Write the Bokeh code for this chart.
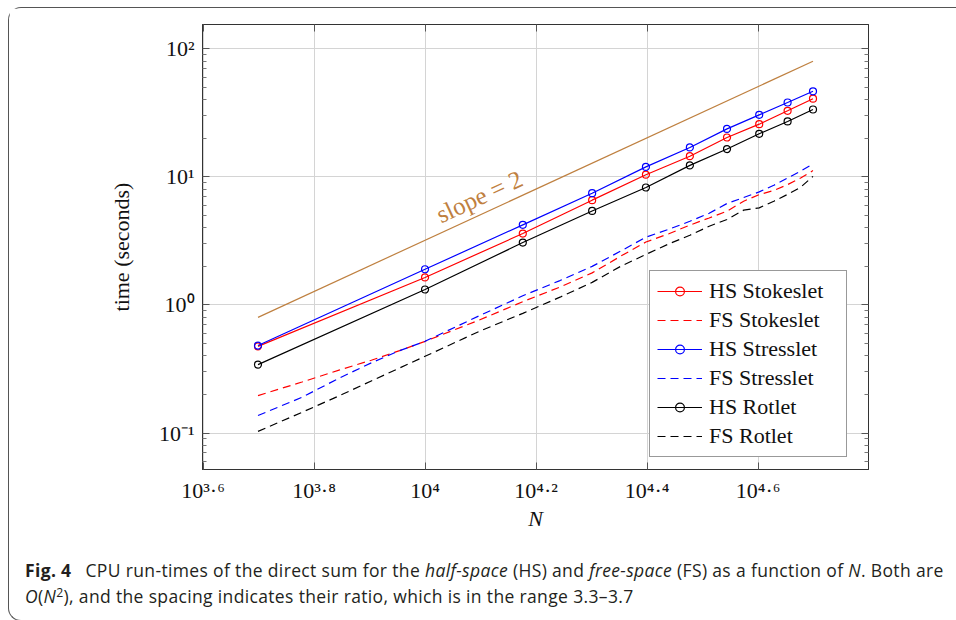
import math
from bokeh.plotting import figure
from bokeh.models import (Range1d, FixedTicker, LogAxis, Label, Legend, LegendItem, Div,
                          CustomLabelingPolicy)
from bokeh.layouts import column
from bokeh.embed import file_html
from bokeh.resources import INLINE

# ---------------- data ----------------
N_hs = [5000, 10000, 15000, 20000, 25000, 30000, 35000, 40000, 45000, 50000]
hs_stokeslet = [0.475, 1.64, 3.61, 6.58, 10.4, 14.5, 20.3, 25.8, 32.8, 40.8]
hs_stresslet = [0.482, 1.90, 4.22, 7.46, 11.97, 16.98, 23.7, 30.5, 38.1, 46.6]
hs_rotlet = [0.342, 1.32, 3.07, 5.42, 8.26, 12.3, 16.5, 21.7, 27.1, 33.6]

N_fs = [5000, 6000, 7000, 8000, 9000, 10000, 12500, 15000, 17500, 20000, 22500,
        25000, 27500, 30000, 32500, 35000, 37500, 40000, 42500, 45000, 47500, 50000]
fs_stokeslet = [0.196, 0.25, 0.31, 0.37, 0.44, 0.52, 0.76, 1.06, 1.38, 1.78, 2.4,
                3.1, 3.6, 4.2, 4.78, 5.4, 6.46, 7.28, 7.83, 8.7, 9.8, 11.2]
fs_stresslet = [0.137, 0.19, 0.268, 0.353, 0.44, 0.52, 0.82, 1.18, 1.55, 2.0, 2.63,
                3.38, 3.9, 4.5, 5.2, 6.2, 6.9, 7.64, 8.6, 9.8, 11.1, 12.6]
fs_rotlet = [0.103, 0.145, 0.195, 0.255, 0.322, 0.397, 0.62, 0.86, 1.15, 1.5, 2.0,
             2.48, 3.0, 3.5, 4.12, 4.65, 5.5, 5.73, 6.46, 7.3, 8.3, 10.1]

slope_N = [5000, 50000]
slope_t = [0.8, 80]
slope_text = "slope = 2"
slope_label_N = 12900

x_tick_exp = [3.6, 3.8, 4.0, 4.2, 4.4, 4.6]
x_tick_labels = ["10\u00b3\u00b7\u2076", "10\u00b3\u00b7\u2078", "10\u2074",
                 "10\u2074\u00b7\u00b2", "10\u2074\u00b7\u2074", "10\u2074\u00b7\u2076"]
y_tick_exp = [-1, 0, 1, 2]
y_tick_labels = ["10\u207b\u00b9", "10\u2070", "10\u00b9", "10\u00b2"]

legend_labels = ["HS Stokeslet", "FS Stokeslet", "HS Stresslet", "FS Stresslet", "HS Rotlet", "FS Rotlet"]

# ---------------- layout constants ----------------
SERIF = "Liberation Serif"
BASE = 22
x_lo, x_hi = 3.59897, 4.79897
y_lo, y_hi = -1.285, 2.19
FW, FH = 666, 446

p = figure(width=947, height=532, x_axis_type="log", y_axis_type="log",
           x_range=Range1d(10 ** x_lo, 10 ** x_hi), y_range=Range1d(10 ** y_lo, 10 ** y_hi),
           output_backend="svg", toolbar_location=None,
           min_border_left=193, min_border_right=88, min_border_top=15, min_border_bottom=71)
p.outline_line_color = "#333333"
p.outline_line_width = 1
p.background_fill_color = "white"
p.border_fill_color = "white"

x_ticks = [10 ** e for e in x_tick_exp]
y_ticks = [10.0 ** e for e in y_tick_exp]
y_minor = [m * 10.0 ** e for e in range(-2, 3) for m in range(2, 10)]

def style_axis(ax, ticker, labels=None):
    ax.ticker = ticker
    if labels is None:
        ax.major_label_policy = CustomLabelingPolicy(code="for (const i of indices) indices.unset(i)")
    else:
        ax.major_label_overrides = {t: s for t, s in zip(ticker.ticks, labels)}
        ax.major_label_text_font = SERIF
        ax.major_label_text_font_size = f"{BASE}px"
        ax.major_label_text_color = "#111111"
    ax.major_tick_in = 7
    ax.major_tick_out = 0
    ax.minor_tick_in = 4
    ax.minor_tick_out = 0
    ax.axis_line_color = "#333333"
    ax.major_tick_line_color = "#555555"
    ax.minor_tick_line_color = "#777777"

bottom_ax = p.below[0]
left_ax = p.left[0]
style_axis(bottom_ax, FixedTicker(ticks=x_ticks, minor_ticks=[]), x_tick_labels)
style_axis(left_ax, FixedTicker(ticks=y_ticks, minor_ticks=y_minor), y_tick_labels)
bottom_ax.major_label_standoff = 8
left_ax.major_label_standoff = 8
top_ax = LogAxis()
style_axis(top_ax, FixedTicker(ticks=x_ticks, minor_ticks=[]))
p.add_layout(top_ax, "above")
right_ax = LogAxis()
style_axis(right_ax, FixedTicker(ticks=y_ticks, minor_ticks=y_minor))
p.add_layout(right_ax, "right")

bottom_ax.axis_label = "N"
left_ax.axis_label = "time (seconds)"
for ax, st in ((bottom_ax, 0), (left_ax, 22)):
    ax.axis_label_text_font = SERIF
    ax.axis_label_text_font_size = f"{BASE}px"
    ax.axis_label_standoff = st
    ax.axis_label_text_color = "#111111"
bottom_ax.axis_label_text_font_style = "italic"
left_ax.axis_label_text_font_style = "normal"

p.xgrid.grid_line_color = "#d4d4d4"
p.ygrid.grid_line_color = "#d4d4d4"
p.xgrid.grid_line_width = 1
p.ygrid.grid_line_width = 1

# ---------------- series ----------------
BROWN = "#bf8040"
p.line(slope_N, slope_t, line_color=BROWN, line_width=1.2)

items = []
specs = [
    (N_hs, hs_stokeslet, "red", True),
    (N_fs, fs_stokeslet, "red", False),
    (N_hs, hs_stresslet, "blue", True),
    (N_fs, fs_stresslet, "blue", False),
    (N_hs, hs_rotlet, "black", True),
    (N_fs, fs_rotlet, "black", False),
]
for lab, (xs, ys, col, solid) in zip(legend_labels, specs):
    if solid:
        rl = p.line(xs, ys, line_color=col, line_width=1.2)
        rs = p.scatter(xs, ys, marker="circle", size=7, fill_color=None, line_color=col, line_width=1.2)
        items.append(LegendItem(label=lab, renderers=[rl, rs]))
    else:
        rl = p.line(xs, ys, line_color=col, line_width=1.2, line_dash="8 5")
        items.append(LegendItem(label=lab, renderers=[rl]))

legend = Legend(items=items, location=(447, 12))
legend.label_text_font = SERIF
legend.label_text_font_size = f"{BASE}px"
legend.label_text_color = "#111111"
legend.glyph_width = 45
legend.glyph_height = 22
legend.label_height = 22
legend.label_width = 130
legend.label_standoff = 7
legend.spacing = 3
legend.padding = 7
legend.margin = 0
legend.border_line_color = "#333333"
legend.border_line_width = 1
legend.background_fill_alpha = 1
p.add_layout(legend)

# ---------------- slope label ----------------
ang = math.atan2(2 * FH / (y_hi - y_lo), FW / (x_hi - x_lo))
gap = 17
p.add_layout(Label(x=slope_label_N, y=slope_t[0] * (slope_label_N / slope_N[0]) ** 2,
                   text=slope_text, angle=ang, text_align="center", text_baseline="alphabetic",
                   x_offset=-gap * math.sin(ang), y_offset=gap * math.cos(ang),
                   text_font=SERIF, text_font_size="25px", text_color=BROWN))

# ---------------- caption ----------------
caption = Div(width=947, height=70, text=(
    '<div style="font-family:\'Open Sans\',sans-serif;font-size:17.5px;line-height:26px;'
    'color:#231f20;white-space:nowrap;padding:12px 0 0 11px;letter-spacing:0.35px;">'
    '<b>Fig. 4</b>&ensp; CPU run-times of the direct sum for the <i>half-space</i> (HS) and '
    '<i>free-space</i> (FS) as a function of <i>N</i>. Both are<br>'
    '<i>O</i>(<i>N</i><span style="font-size:70%;position:relative;top:-0.5em;">2</span>), '
    'and the spacing indicates their ratio, which is in the range 3.3\u20133.7</div>'))

layout = column(p, caption, margin=(7, 0, 0, 8),
                styles={"border-left": "1.3px solid #555", "border-top": "1.3px solid #555",
                        "border-bottom": "1.3px solid #555",
                        "border-top-left-radius": "13px", "border-bottom-left-radius": "13px"})

open("out.html", "w").write(file_html(layout, INLINE))
